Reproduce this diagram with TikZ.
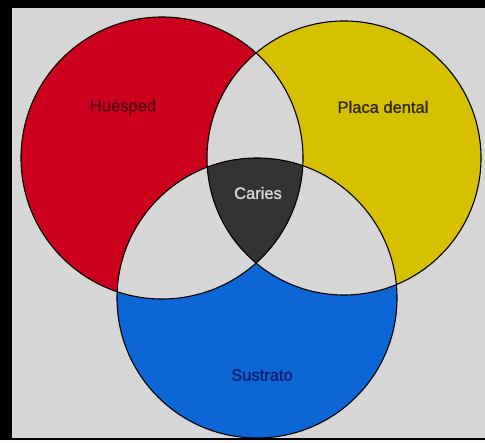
\documentclass[tikz,border=0pt]{standalone}
\usepackage{fontspec}
\setmainfont{Liberation Sans}
\newfontfamily\lblfont[FakeBold=1.4]{Liberation Sans}
\definecolor{paper}{RGB}{214,214,214}
\definecolor{vred}{RGB}{204,0,28}
\definecolor{vyellow}{RGB}{214,192,0}
\definecolor{vblue}{RGB}{12,102,214}
\definecolor{vdark}{RGB}{52,50,50}
\definecolor{tred}{RGB}{90,0,20}
\definecolor{tyel}{RGB}{50,42,0}
\definecolor{tblue}{RGB}{10,30,110}
\definecolor{tlight}{RGB}{215,215,215}
\tikzset{
  lbl/.style={font=\lblfont\fontsize{16.5}{18}\selectfont, inner sep=0pt},
  ring/.style={draw=black, line width=1.1pt}
}
\begin{document}
\begin{tikzpicture}[x=1pt,y=-1pt]
\useasboundingbox (0,0) rectangle (485,443);
% frame and paper
\fill[black] (0,0) rectangle (485,443);
\fill[paper] (12,8) rectangle (485,438);
\fill[white!90!paper] (0,440) rectangle (485,443);
% centres
\coordinate (R) at (162,158);
\coordinate (Y) at (344,158);
\coordinate (B) at (257,298);
\def\rR{141}\def\rY{137}\def\rB{140}
% circle fills
\fill[vred] (R) circle[radius=\rR];
\fill[vyellow] (Y) circle[radius=\rY];
\fill[vblue] (B) circle[radius=\rB];
% pairwise intersections
\begin{scope}
  \clip (R) circle[radius=\rR];
  \fill[paper] (Y) circle[radius=\rY];
  \fill[paper] (B) circle[radius=\rB];
\end{scope}
\begin{scope}
  \clip (Y) circle[radius=\rY];
  \fill[paper] (B) circle[radius=\rB];
\end{scope}
% triple intersection
\begin{scope}
  \clip (R) circle[radius=\rR];
  \clip (Y) circle[radius=\rY];
  \fill[vdark] (B) circle[radius=\rB];
\end{scope}
% outlines
\draw[ring] (R) circle[radius=\rR];
\draw[ring] (Y) circle[radius=\rY];
\draw[ring] (B) circle[radius=\rB];
% labels
\node[lbl, text=tred] (huesped) at (123,107) {Huésped};
\node[lbl, text=tyel] (placa) at (383,107) {Placa dental};
\node[lbl, text=tlight] (caries) at (258,193) {Caries};
\node[lbl, text=tblue] (sustrato) at (262,375) {Sustrato};
\end{tikzpicture}
\end{document}
